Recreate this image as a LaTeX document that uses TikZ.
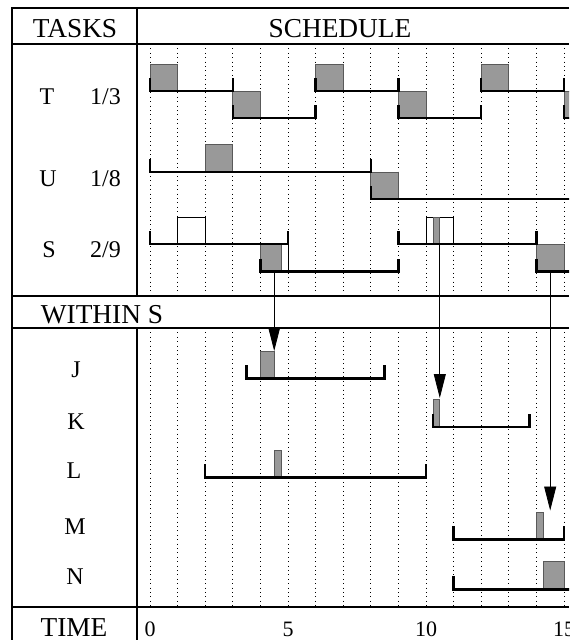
\documentclass[tikz,border=0pt]{standalone}
\usepackage{fontspec}
\setmainfont{Liberation Serif}
\usetikzlibrary{arrows.meta}
% a job window: ticks at both ends, base line at height #3
\newcommand\jobwin[3]{\draw[window] (#1,{#3-13}) -- (#1,#3) -- (#2,#3) -- (#2,{#3-13});}
% a window that runs on past the right edge
\newcommand\openwin[2]{\draw[window] (#1,{#2-13}) -- (#1,#2) -- (17,#2);}
\begin{document}
\begin{tikzpicture}[x=0.75pt,y=-0.75pt,
  frame/.style={line width=2pt},
  gridline/.style={line width=0.5pt, dash pattern=on 0.6pt off 2.7pt},
  busy/.style={fill=black!40, draw=black!65, line width=0.5pt},
  budget/.style={fill=white, draw=black, line width=0.6pt},
  window/.style={line width=1.8pt},
  handoff/.style={line width=0.6pt, -{Triangle[length=18pt,width=9pt]}},
  head/.style={font=\fontsize{20.5}{20.5}\selectfont, anchor=base, inner sep=0pt},
  lbl/.style={font=\fontsize{18}{18}\selectfont, anchor=base, inner sep=0pt},
  ticklbl/.style={font=\fontsize{16.5}{16.5}\selectfont, anchor=base, inner sep=0pt}]
\useasboundingbox (0,0) rectangle (569,640);
\clip (0,0) rectangle (569,640);
\fill[white] (0,0) rectangle (569,640);

% time axis: one unit = 27.6px, origin at x = 150
\begin{scope}[shift={(150,0)}, x=20.7pt]
  \foreach \tm in {0,...,15} {
    \draw[gridline] (\tm,44) -- (\tm,296);
    \draw[gridline] (\tm,328) -- (\tm,607);
  }
  % task T, period 3
  \foreach \a in {0,6,12} \draw[busy] (\a,64) rectangle ({\a+1},91);
  \foreach \a in {3,9,15} \draw[busy] (\a,91) rectangle ({\a+1},118);
  \jobwin{0}{3}{91} \jobwin{3}{6}{118} \jobwin{6}{9}{91}
  \jobwin{9}{12}{118} \jobwin{12}{15}{91} \openwin{15}{118}
  % task U, period 8
  \draw[busy] (2,144) rectangle (3,172);
  \draw[busy] (8,172) rectangle (9,199);
  \jobwin{0}{8}{172} \openwin{8}{199}
  % server S
  \draw[budget] (1,217) rectangle (2,244);
  \draw[budget] (4,244) rectangle (5,271.5);
  \draw[busy] (4,244) rectangle (4.75,271.5);
  \draw[budget] (10,217) rectangle (11,244);
  \draw[busy] (10.25,217) rectangle (10.5,244);
  \draw[busy] (14,244) rectangle (15,271.5);
  \jobwin{0}{5}{244} \jobwin{4}{9}{271.5} \jobwin{9}{14}{244} \openwin{14}{271.5}
  % jobs within S
  \draw[busy] (4,351.5) rectangle (4.5,378.3);
  \jobwin{3.5}{8.5}{378.3}
  \draw[busy] (10.25,399.3) rectangle (10.5,426.7);
  \jobwin{10.25}{13.75}{426.7}
  \draw[busy] (4.5,450) rectangle (4.75,477.3);
  \jobwin{2}{10}{477.3}
  \draw[busy] (14,512.3) rectangle (14.25,539.3);
  \jobwin{11}{15}{539.3}
  \draw[busy] (14.25,561.7) rectangle (15,589.3);
  \openwin{11}{589.3}
  % hand-offs from S to its jobs
  \coordinate (sJ) at (4.5,271.5);  \coordinate (J) at (4.5,351);
  \coordinate (sK) at (10.5,244);   \coordinate (K) at (10.5,398);
  \coordinate (sM) at (14.5,271.5); \coordinate (M) at (14.5,510.5);
  \draw[handoff] (sJ) -- (J);
  \draw[handoff] (sK) -- (K);
  \draw[handoff] (sM) -- (M);
  % time labels
  \foreach \tm in {0,5,10,15}
    \node[ticklbl] (t\tm) at (\tm,636.5) {\tm};
\end{scope}

% table frame
\draw[frame] (569,8) -- (12,8) -- (12,640);
\draw[frame] (12,44) -- (569,44);
\draw[frame] (12,296) -- (569,296);
\draw[frame] (12,328) -- (569,328);
\draw[frame] (12,607) -- (569,607);
\draw[frame] (137,8) -- (137,296);
\draw[frame] (137,328) -- (137,640);

% headings
\node[head] (tasks) at (75,37) {TASKS};
\node[head] (sched) at (340,37) {SCHEDULE};
\node[head] (within) at (102,323) {WITHIN S};
\node[head] (time) at (74,636) {TIME};

% task names and rates
\node[lbl] (nT) at (47,104) {T};   \node[lbl] (rT) at (105.5,104) {1/3};
\node[lbl] (nU) at (48,186) {U};   \node[lbl] (rU) at (105.5,186) {1/8};
\node[lbl] (nS) at (49,257.5) {S}; \node[lbl] (rS) at (105.5,257.5) {2/9};
\node[lbl] (nJ) at (76,377) {J};
\node[lbl] (nK) at (76,429) {K};
\node[lbl] (nL) at (74,478) {L};
\node[lbl] (nM) at (75,534) {M};
\node[lbl] (nN) at (75,584) {N};
\end{tikzpicture}
\end{document}
